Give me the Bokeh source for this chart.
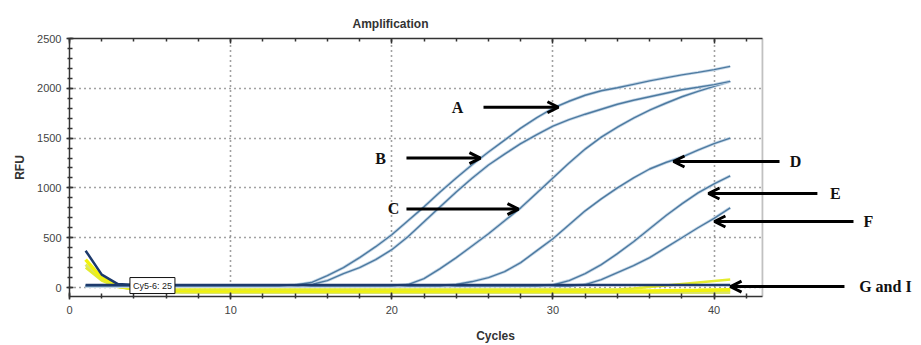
from bokeh.plotting import figure
from bokeh.models import (Range1d, LinearAxis, SingleIntervalTicker, Label, Arrow, OpenHead,
                          BoxAnnotation)
from bokeh.embed import file_html
from bokeh.resources import INLINE

# ---------------- data ----------------
cycles = [1, 2, 3, 4, 5, 6, 7, 8, 9, 10, 11, 12, 13, 14, 15, 16, 17, 18, 19, 20,
          21, 22, 23, 24, 25, 26, 27, 28, 29, 30, 31, 32, 33, 34, 35, 36, 37, 38, 39, 40, 41]

curve_A = [15, 15, 15, 15, 15, 15, 15, 15, 15, 15, 15, 15, 15, 25, 50, 120, 200, 300, 410, 530,
           670, 810, 960, 1100, 1235, 1360, 1480, 1600, 1705, 1800, 1870, 1930, 1975, 2005, 2040,
           2075, 2105, 2135, 2160, 2187, 2220]
curve_B = [15, 15, 15, 15, 15, 15, 15, 15, 15, 15, 15, 15, 15, 15, 30, 70, 140, 200, 280, 380,
           510, 660, 810, 960, 1100, 1230, 1340, 1445, 1535, 1620, 1685, 1740, 1790, 1840, 1880,
           1915, 1950, 1985, 2010, 2037, 2070]
curve_C = [15, 15, 15, 15, 15, 15, 15, 15, 15, 15, 15, 15, 15, 15, 15, 15, 15, 15, 15, 15,
           30, 90, 190, 300, 420, 540, 670, 800, 950, 1100, 1250, 1390, 1510, 1610, 1700,
           1780, 1850, 1915, 1970, 2020, 2070]
curve_D = [15, 15, 15, 15, 15, 15, 15, 15, 15, 15, 15, 15, 15, 15, 15, 15, 15, 15, 15, 15,
           15, 15, 15, 30, 60, 100, 160, 250, 370, 490, 630, 770, 890, 1000, 1100,
           1190, 1255, 1310, 1380, 1445, 1500]
curve_E = [15, 15, 15, 15, 15, 15, 15, 15, 15, 15, 15, 15, 15, 15, 15, 15, 15, 15, 15, 15,
           15, 15, 15, 15, 15, 15, 15, 15, 15, 25, 70, 140, 230, 340, 460,
           590, 720, 840, 950, 1040, 1120]
curve_F = [15, 15, 15, 15, 15, 15, 15, 15, 15, 15, 15, 15, 15, 15, 15, 15, 15, 15, 15, 15,
           15, 15, 15, 15, 15, 15, 15, 15, 15, 15, 15, 30, 80, 150, 220,
           300, 400, 500, 600, 695, 800]

neg_1 = [280, 95, 15, -15, -25, -30, -32, -35, -35, -35, -35, -35, -35, -35, -35, -35, -35, -35, -35, -35,
         -35, -35, -35, -35, -35, -35, -35, -35, -35, -35, -35, -35, -35, -35, -35,
         -35, -32, -30, -28, -25, -22]
neg_2 = [200, 70, 5, -10, -15, -18, -20, -20, -20, -20, -20, -20, -20, -20, -20, -20, -20, -20, -20, -20,
         -20, -20, -20, -20, -20, -20, -20, -20, -20, -20, -20, -20, -20, -20, -10,
         5, 20, 35, 50, 65, 80]
neg_3 = [230, 80, 10, -20, -35, -45, -50, -50, -50, -50, -50, -50, -50, -50, -50, -50, -50, -50, -50, -50,
         -50, -50, -50, -50, -50, -50, -50, -50, -50, -50, -50, -50, -50, -50, -50,
         -50, -50, -50, -50, -50, -50]

spike_cycles = [1, 2, 3, 4]
spike_rfu = [370, 130, 35, 25]

threshold_cycles = [1, 41]
threshold_rfu = 25
threshold_text = "Cy5-6: 25"

X_MAX = 43          # right edge of the chart box (cycles)
Y_MIN, Y_MAX = -90, 2500

# ---------------- figure ----------------
p = figure(width=921, height=345, output_backend="svg", toolbar_location=None,
           x_range=Range1d(0, 52.87), y_range=Range1d(Y_MIN, Y_MAX),
           min_border_left=69, min_border_right=0, min_border_top=38, min_border_bottom=49,
           x_axis_label="Cycles", y_axis_label="RFU")
p.background_fill_color = "white"
p.border_fill_color = "white"
p.outline_line_color = None

p.title.text = "Amplification"
p.title.text_font = "Liberation Sans"
p.title.text_font_size = "12px"
p.title.text_font_style = "bold"
p.title.text_color = "#333333"
p.title.align = "left"
p.title.offset = 283
p.title.standoff = 16

xt = SingleIntervalTicker(interval=10, num_minor_ticks=5)
yt = SingleIntervalTicker(interval=500, num_minor_ticks=5)

def style_axis(ax):
    ax.axis_line_color = "#333333"
    ax.axis_line_width = 1.5
    ax.major_tick_line_color = "#333333"
    ax.minor_tick_line_color = "#333333"
    ax.major_tick_line_width = 1.5
    ax.minor_tick_line_width = 1.5
    ax.major_tick_in = 4
    ax.major_tick_out = 3
    ax.minor_tick_in = 3
    ax.minor_tick_out = 2
    ax.major_label_text_font = "Liberation Sans"
    ax.major_label_text_font_size = "11px"
    ax.major_label_text_color = "#444444"
    ax.axis_label_text_font = "Liberation Sans"
    ax.axis_label_text_font_size = "12px"
    ax.axis_label_text_font_style = "bold"
    ax.axis_label_text_color = "#333333"

xa = p.xaxis[0]
xa.ticker = xt
style_axis(xa)
xa.bounds = (0, X_MAX)
xa.major_label_standoff = 6
xa.axis_label_standoff = 12

ya = p.yaxis[0]
ya.ticker = yt
style_axis(ya)
ya.major_label_standoff = 5
ya.axis_label_standoff = 7

top = LinearAxis(ticker=SingleIntervalTicker(interval=10, num_minor_ticks=5))
style_axis(top)
top.bounds = (0, X_MAX)
top.major_label_text_color = None
top.major_label_text_font_size = "1px"
top.major_label_standoff = 0
top.major_tick_in = 5
top.major_tick_out = 0
top.minor_tick_out = 0
p.add_layout(top, "above")

for g, t in ((p.xgrid[0], xt), (p.ygrid[0], yt)):
    g.ticker = t
    g.grid_line_color = "#444444"
    g.grid_line_dash = "1 4"
    g.grid_line_width = 1.6

# white area to the right of the chart box; its left edge is the box's right border
p.add_layout(BoxAnnotation(left=X_MAX, right=80, top=5000, bottom=-5000, level="underlay",
                           fill_color="white", fill_alpha=1.0,
                           line_color="#333333", line_width=1.8))

# negative / no-template traces (yellow)
p.line(cycles, neg_3, line_color="#d6e25a", line_width=3, line_alpha=0.9)
p.line(cycles, neg_1, line_color="#f2f20c", line_width=3.5)
p.line(cycles, neg_2, line_color="#e4ec2e", line_width=2.5)

# amplification curves
for ys in (curve_F, curve_E, curve_D, curve_C, curve_B, curve_A):
    p.line(cycles, ys, line_color="#c3d5e6", line_width=3.0)
    p.line(cycles, ys, line_color="#4d7aa0", line_width=1.4)

# early spike and threshold
p.line(spike_cycles, spike_rfu, line_color="#1d3a6c", line_width=2.5)
p.line(threshold_cycles, [threshold_rfu, threshold_rfu], line_color="#1d3a6c", line_width=2.5)

p.add_layout(Label(x=3.75, y=20, text=threshold_text, text_font="Liberation Sans",
                   text_font_size="9px", text_color="#222222", text_baseline="middle",
                   text_align="left", border_line_color="#111111", border_line_width=1,
                   background_fill_color="white", padding=3))

# letters and arrows
letters = [
    ("A", 24.08, 1810, "center"), ("B", 19.30, 1300, "center"), ("C", 20.10, 790, "center"),
    ("D", 45.05, 1265, "center"), ("E", 47.53, 944, "center"), ("F", 49.58, 663, "center"),
    ("G and I", 49.0, 10, "left"),
]
for t, x, y, al in letters:
    p.add_layout(Label(x=x, y=y, text=t, text_font="Liberation Serif", text_font_size="16px",
                       text_font_style="bold", text_color="#111111", text_align=al,
                       text_baseline="middle"))

arrows = [
    (25.69, 30.34, 1810), (20.91, 25.50, 1300), (20.91, 27.86, 788),
    (44.06, 37.48, 1265), (46.41, 39.65, 944), (48.65, 40.02, 663), (48.09, 41.02, 10),
]
for xs, xe, y in arrows:
    p.add_layout(Arrow(x_start=xs, y_start=y, x_end=xe, y_end=y, line_width=3, line_color="black",
                       end=OpenHead(size=11, line_width=3, line_color="black")))

open("out.html", "w").write(file_html(p, INLINE))
